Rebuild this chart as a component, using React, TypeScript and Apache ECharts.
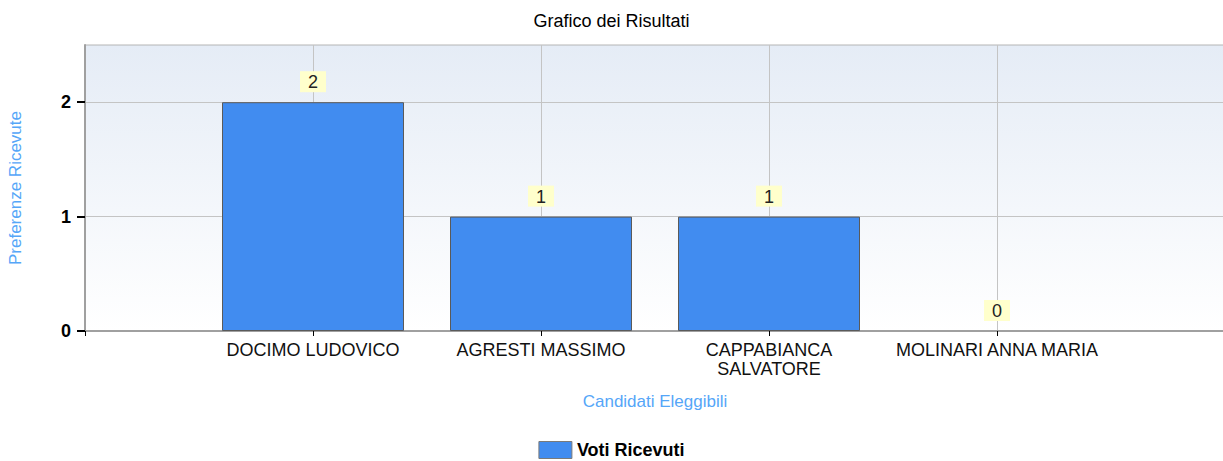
import React, { useEffect, useRef } from "react";
import * as echarts from "echarts";

const categories = ["DOCIMO LUDOVICO", "AGRESTI MASSIMO", "CAPPABIANCA\nSALVATORE", "MOLINARI ANNA MARIA"];
const votes = [2, 1, 1, 0];
const yTicks = [0, 1, 2];
const seriesName = "Voti Ricevuti";
const titleText = "Grafico dei Risultati";
const xName = "Candidati Eleggibili";
const yName = "Preferenze Ricevute";

const FONT = "'Liberation Sans', Arial, sans-serif";

export default function App() {
  const ref = useRef<HTMLDivElement>(null);
  useEffect(() => {
    if (!ref.current) return;
    const chart = echarts.init(ref.current, undefined, { renderer: "svg" });
    const data = votes.map((v, i) => ({
      value: [i + 1, v],
      itemStyle: { borderWidth: v === 0 ? 0 : 1 },
    }));
    chart.setOption({
      animation: false,
      textStyle: { fontFamily: FONT },
      title: {
        text: titleText,
        left: "center",
        top: 7,
        textStyle: { fontFamily: FONT, fontSize: 18, fontWeight: "normal", color: "#000" },
      },
      legend: {
        top: 441,
        left: "center",
        icon: "rect",
        itemWidth: 33,
        itemHeight: 17,
        itemGap: 8,
        padding: 0,
        data: [{ name: seriesName, itemStyle: { borderColor: "#7a7a7a", borderWidth: 1 } }],
        textStyle: { fontFamily: FONT, fontSize: 18, fontWeight: "bold", color: "#000" },
      },
      grid: {
        left: 85,
        top: 45,
        width: 1140,
        height: 286,
        containLabel: false,
        outerBoundsMode: "none",
        show: true,
        borderColor: "#b4b4b4",
        borderWidth: 1,
        backgroundColor: new echarts.graphic.LinearGradient(0, 0, 0, 1, [
          { offset: 0, color: "#e5ecf6" },
          { offset: 1, color: "#ffffff" },
        ]),
      },
      xAxis: {
        type: "value",
        min: 0,
        max: 5,
        interval: 1,
        name: xName,
        nameLocation: "middle",
        nameGap: 62,
        nameTextStyle: { fontFamily: FONT, fontSize: 17, color: "#55a6f8" },
        axisLine: { show: true, lineStyle: { color: "#a0a0a0", width: 2 } },
        axisTick: { show: true, length: 5, lineStyle: { color: "#000" } },
        splitLine: { show: true, lineStyle: { color: "#c4c4c4", width: 1 } },
        axisLabel: {
          margin: 9,
          fontFamily: FONT,
          fontSize: 18,
          lineHeight: 19,
          color: "#111",
          formatter: (v: number) => categories[v - 1] ?? "",
        },
      },
      yAxis: {
        type: "value",
        min: 0,
        max: 2.5,
        interval: 1,
        name: yName,
        nameLocation: "middle",
        nameRotate: 90,
        nameGap: 61,
        nameTextStyle: { fontFamily: FONT, fontSize: 17, color: "#55a6f8" },
        axisLine: { show: true, lineStyle: { color: "#a0a0a0", width: 2 } },
        axisTick: { show: true, length: 8, customValues: yTicks, lineStyle: { color: "#000", width: 2 } },
        splitLine: { show: true, lineStyle: { color: "#c4c4c4", width: 1 } },
        axisLabel: {
          margin: 14,
          customValues: yTicks,
          fontFamily: FONT,
          fontSize: 18,
          fontWeight: "bold",
          color: "#000",
          formatter: (v: number) => (Number.isInteger(v) ? String(v) : ""),
        },
      },
      series: [
        {
          name: seriesName,
          type: "bar",
          data,
          barWidth: 182,
          itemStyle: { color: "#418cf0", borderColor: "#5a5a5a", borderWidth: 1 },
          label: {
            show: true,
            position: "top",
            distance: 10,
            fontFamily: FONT,
            fontSize: 18,
            color: "#222",
            backgroundColor: "#ffffcc",
            padding: [2, 8, 1, 8],
            formatter: (p: any) => String(p.value[1]),
          },
        },
      ],
    });
    return () => chart.dispose();
  }, []);
  return (
    <div
      ref={ref}
      style={{ position: "absolute", left: 0, top: 0, width: 1223, height: 461 }}
    />
  );
}
